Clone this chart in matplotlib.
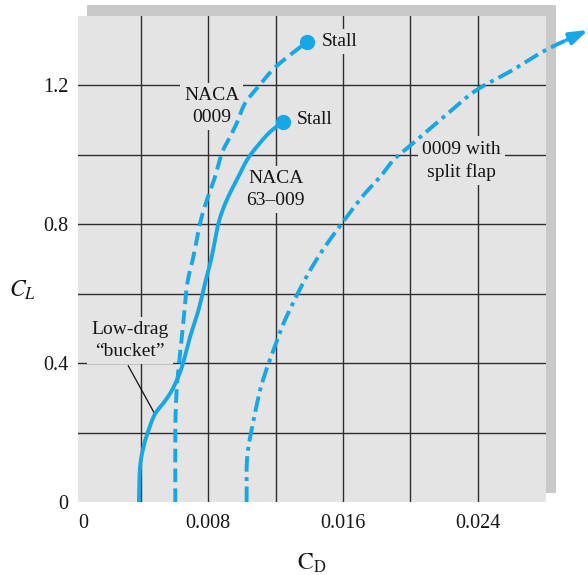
import matplotlib
matplotlib.use("Agg")
import matplotlib.pyplot as plt
from matplotlib.patches import Rectangle
import numpy as np

plt.rcParams['font.family'] = ['Liberation Serif', 'DejaVu Serif']
plt.rcParams['mathtext.fontset'] = 'stix'

# drag polars (CD, CL)
cd_63009 = [0.00388, 0.00394, 0.00414, 0.00443, 0.00483, 0.00543, 0.00592, 0.00642,
            0.00691, 0.00741, 0.00780, 0.00820, 0.00860, 0.00909, 0.00978, 0.01030,
            0.01088, 0.01167, 0.01246]
cl_63009 = [0.000, 0.098, 0.156, 0.204, 0.253, 0.291, 0.329, 0.387,
            0.474, 0.551, 0.628, 0.705, 0.802, 0.869, 0.936, 0.985,
            1.023, 1.066, 1.095]

cd_0009 = [0.00604, 0.00604, 0.00612, 0.00626, 0.00651, 0.00675, 0.00711, 0.00751,
           0.00791, 0.00840, 0.00880, 0.00919, 0.00969, 0.01018, 0.01097, 0.01202,
           0.01385]
cl_0009 = [0.000, 0.204, 0.320, 0.397, 0.513, 0.628, 0.705, 0.802,
           0.869, 0.936, 1.004, 1.042, 1.091, 1.148, 1.196, 1.254,
           1.325]

cd_flap = [0.01028, 0.01028, 0.01038, 0.01068, 0.01107, 0.01143, 0.01179, 0.01246,
           0.01321, 0.01393, 0.01479, 0.01593, 0.01721, 0.01821, 0.01900, 0.01979,
           0.02247, 0.02395, 0.02593, 0.02791, 0.02930]
cl_flap = [0.000, 0.098, 0.156, 0.233, 0.320, 0.378, 0.426, 0.513,
           0.590, 0.657, 0.725, 0.802, 0.883, 0.936, 0.985, 1.018,
           1.129, 1.187, 1.240, 1.298, 1.331]
flap_tip = (0.03059, 1.360)

stall_0009 = (0.01385, 1.325)
stall_63009 = (0.01246, 1.095)

x_grid = [0.004, 0.008, 0.012, 0.016, 0.020, 0.024]
y_grid = [0.2, 0.4, 0.6, 0.8, 1.0, 1.2]
x_ticks = [0.00055, 0.008, 0.016, 0.024]
x_labels = ['0', '0.008', '0.016', '0.024']
y_ticks = [0.0, 0.4, 0.8, 1.2]
y_labels = ['0', '0.4', '0.8', '1.2']

BLUE = '#17a6e6'
PANEL = '#e4e4e4'
SHADOW = '#c9c9c9'
GRID = '#2e2e2e'
TXT = '#151515'


def smooth(xs, ys, n=12):
    # Catmull-Rom pass so the drawn line bends smoothly through the read points
    # (done in a scaled space so CD and CL weigh about the same)
    p = np.column_stack([np.asarray(xs) / 0.004 * 67.3, np.asarray(ys) / 0.2 * 69.2])
    p = np.vstack([2 * p[0] - p[1], p, 2 * p[-1] - p[-2]])
    out = []
    t = np.linspace(0, 1, n, endpoint=False)[:, None]
    for i in range(1, len(p) - 2):
        p0, p1, p2, p3 = p[i - 1], p[i], p[i + 1], p[i + 2]
        seg = 0.5 * ((2 * p1) + (-p0 + p2) * t + (2 * p0 - 5 * p1 + 4 * p2 - p3) * t ** 2
                     + (-p0 + 3 * p1 - 3 * p2 + p3) * t ** 3)
        out.append(seg)
    out.append(p[-2][None, :])
    out = np.vstack(out)
    return out[:, 0] / 67.3 * 0.004, out[:, 1] / 69.2 * 0.2


W, H = 588, 575
fig = plt.figure(figsize=(W / 100, H / 100), dpi=100)

# shadow behind the panel (pixel box 87..556 x 5..493)
fig.patches.append(Rectangle((87 / W, 1 - 493 / H), 469 / W, 488 / H,
                             transform=fig.transFigure, facecolor=SHADOW,
                             edgecolor='none', zorder=-5))

ax = fig.add_axes([78 / W, 1 - 502 / H, 468 / W, 486 / H])
ax.set_zorder(1)
ax.set_facecolor(PANEL)
ax.set_xlim(0.00026, 0.02807)
ax.set_ylim(0, 1.40)
for s in ax.spines.values():
    s.set_visible(False)

for xv in x_grid:
    ax.axvline(xv, color=GRID, lw=1.0, zorder=1)
for yv in y_grid:
    ax.axhline(yv, color=GRID, lw=1.0, zorder=1)

ax.set_xticks(x_ticks, labels=x_labels)
ax.set_yticks(y_ticks, labels=y_labels)
ax.tick_params(axis='both', length=0, labelsize=14.5, colors=TXT)
ax.tick_params(axis='x', pad=9)
ax.tick_params(axis='y', pad=7)

lw = 2.8
ax.plot(*smooth(cd_63009, cl_63009), color=BLUE, lw=lw, solid_capstyle='butt', zorder=3)
ax.plot(*smooth(cd_0009, cl_0009), color=BLUE, lw=lw, ls=(0, (3.5, 1.6)),
        dash_capstyle='butt', zorder=3)
ax.plot(*smooth(cd_flap, cl_flap), color=BLUE, lw=lw, ls=(0, (4.0, 1.4, 1.0, 1.4)),
        dash_capstyle='butt', zorder=3, clip_on=False)
ax.annotate('', xy=flap_tip, xytext=(cd_flap[-1], cl_flap[-1]),
            annotation_clip=False,
            arrowprops=dict(arrowstyle='-|>,head_length=0.9,head_width=0.3',
                            color=BLUE, lw=lw, mutation_scale=12,
                            shrinkA=0, shrinkB=0))

ax.plot(*stall_0009, 'o', color=BLUE, ms=10, zorder=4)
ax.plot(*stall_63009, 'o', color=BLUE, ms=10, zorder=4)

box = dict(facecolor=PANEL, edgecolor='none', pad=3)
fs = 14
ls = 1.4
ax.text(0.01474, 1.326, 'Stall', fontsize=fs, color=TXT, ha='left', va='center',
        bbox=box, zorder=2)
ax.text(0.01326, 1.103, 'Stall', fontsize=fs, color=TXT, ha='left', va='center',
        bbox=box, zorder=2)
ax.text(0.00820, 1.140, 'NACA\n0009', fontsize=fs, color=TXT, ha='center',
        va='center', linespacing=ls, bbox=box, zorder=2)
ax.text(0.01201, 0.900, 'NACA\n63\u2013009', fontsize=fs, color=TXT, ha='center',
        va='center', linespacing=ls, bbox=box, zorder=2)
ax.text(0.02306, 0.983, '0009 with\nsplit flap', fontsize=fs, color=TXT,
        ha='center', va='center', linespacing=ls, bbox=box, zorder=2)
ax.text(0.00335, 0.466, 'Low-drag\n\u201cbucket\u201d', fontsize=fs, color=TXT,
        ha='center', va='center', linespacing=ls, bbox=box, zorder=2)
ax.plot([0.00325, 0.00483], [0.392, 0.253], color='#111111', lw=0.9, zorder=2.5)

fig.text(22 / W, 1 - 290 / H, r'$C_L$', fontsize=17, color=TXT,
         ha='center', va='center')
fig.text(312 / W, 1 - 563 / H, r'$\mathrm{C}_\mathrm{D}$', fontsize=17,
         color=TXT, ha='center', va='center')

fig.savefig('out.png', dpi=100, facecolor='white')
